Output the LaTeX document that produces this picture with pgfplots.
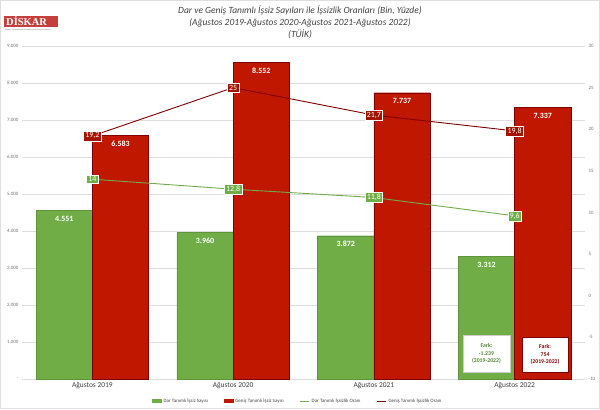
\documentclass[border=0pt]{standalone}
\usepackage{pgfplots}
\pgfplotsset{compat=1.18}
\usepackage{fontspec}
\setmainfont{Carlito}
\newfontfamily\logofont{Liberation Serif}

\definecolor{darGreen}{RGB}{112,173,71}
\definecolor{genRed}{RGB}{192,24,0}
\definecolor{genDark}{RGB}{128,0,0}
\definecolor{txtGray}{RGB}{64,64,64}
\definecolor{logoRed}{RGB}{196,64,60}

\begin{document}
\begin{tikzpicture}[x=1bp,y=1bp]
\path[use as bounding box] (0,0) rectangle (600,409);
\draw[gray!25, line width=0.6bp] (0.3,0.3) rectangle (599.7,408.7);

% logo
\fill[logoRed] (4,382) rectangle (58,393);
\node[anchor=west, text=white, font=\fontsize{10.5}{10.5}\logofont\bfseries, inner sep=0pt] at (6,387.5) {DİSKAR};
\node[anchor=west, text=black!60, font=\fontsize{1.6}{2}\selectfont, inner sep=0pt] at (5,379.5) {DEVRİMCİ İŞÇİ SENDİKALARI KONFEDERASYONU ARAŞTIRMA MERKEZİ};

% title
\node[align=center, text=txtGray, font=\fontsize{9.5}{12}\selectfont\itshape] at (300,387)
  {Dar ve Geniş Tanımlı İşsiz Sayıları ile İşsizlik Oranları (Bin, Yüzde)\\
   (Ağustos 2019-Ağustos 2020-Ağustos 2021-Ağustos 2022)\\
   (TÜİK)};

\begin{axis}[
  at={(22bp,30bp)}, anchor=south west,
  scale only axis, width=563bp, height=333bp,
  xmin=-0.5, xmax=3.5, ymin=0, ymax=9000,
  axis line style={draw=none},
  major tick length=0pt,
  xtick={0,1,2,3},
  xticklabels={Ağustos 2019,Ağustos 2020,Ağustos 2021,Ağustos 2022},
  xticklabel style={font=\fontsize{7.5}{9}\selectfont, text=txtGray},
  ytick={0,1000,...,9000},
  yticklabels={-,1.000,2.000,3.000,4.000,5.000,6.000,7.000,8.000,9.000},
  yticklabel style={font=\fontsize{5}{6}\selectfont, text=black!55},
  ymajorgrids, grid style={draw=black!13, line width=0.6bp},
  every node near coord/.append style={anchor=north, yshift=-2bp, text=white,
    font=\fontsize{8}{9}\selectfont\bfseries},
]
% bars drawn at the centre of each bar (group centre -/+ 0.2)
\addplot[ybar, bar width=0.4, bar shift=0, fill=darGreen, draw=darGreen!85!black,
  nodes near coords, point meta=explicit symbolic]
  table[meta=label] {
x y label
-0.2 4551 4.551
0.8 3960 3.960
1.8 3872 3.872
2.8 3312 3.312
};
\addplot[ybar, bar width=0.4, bar shift=0, fill=genRed, draw=genDark,
  nodes near coords, point meta=explicit symbolic]
  table[meta=label] {
x y label
0.2 6583 6.583
1.2 8552 8.552
2.2 7737 7.737
3.2 7337 7.337
};
\node[draw=black!20, fill=white, text=darGreen!75!black, align=center,
  minimum width=47bp, minimum height=37bp, inner sep=1bp,
  font=\fontsize{5.8}{7.2}\selectfont\bfseries] at (axis cs:2.80,689) {Fark:\\-1.239\\(2019-2022)};
\node[draw=genDark, fill=white, text=genDark, align=center,
  minimum width=46bp, minimum height=35bp, inner sep=1bp,
  font=\fontsize{5.8}{7.2}\selectfont\bfseries] at (axis cs:3.216,662) {Fark:\\754\\(2019-2022)};
\end{axis}

\begin{axis}[
  at={(22bp,30bp)}, anchor=south west,
  scale only axis, width=563bp, height=333bp,
  xmin=-0.5, xmax=3.5, ymin=-10, ymax=30,
  hide x axis,
  axis y line*=right,
  axis line style={draw=none},
  major tick length=0pt,
  ytick={-10,-5,...,30},
  yticklabels={-10,-5,0,5,10,15,20,25,30},
  yticklabel style={font=\fontsize{5}{6}\selectfont, text=black!55},
  legend columns=4,
  legend style={at={(0.49,-0.066)}, anchor=center, draw=none, fill=none,
    font=\fontsize{5}{6}\selectfont, text=txtGray,
    /tikz/every even column/.append style={column sep=14bp}},
  every node near coord/.append style={anchor=center, text=white, draw=white,
    line width=0.6bp, inner sep=1.8bp, font=\fontsize{8}{9}\selectfont},
]
\addlegendimage{legend image code/.code={\fill[darGreen] (0bp,-1.5bp) rectangle (9bp,1.5bp);}}
\addlegendentry{Dar Tanımlı İşsiz Sayısı}
\addlegendimage{legend image code/.code={\fill[genRed] (0bp,-1.5bp) rectangle (9bp,1.5bp);}}
\addlegendentry{Geniş Tanımlı İşsiz Sayısı}
\addplot[darGreen, line width=0.9bp, mark=none,
  legend image code/.code={\draw[darGreen, line width=0.9bp] (0bp,0bp) -- (9bp,0bp);},
  nodes near coords, point meta=explicit symbolic,
  every node near coord/.append style={fill=darGreen}]
  table[meta=label] {
x y label
0 14 14
1 12.8 {12,8}
2 11.8 {11,8}
3 9.6 {9,6}
};
\addlegendentry{Dar Tanımlı İşsizlik Oranı}
\addplot[genDark, line width=0.9bp, mark=none,
  legend image code/.code={\draw[genDark, line width=0.9bp] (0bp,0bp) -- (9bp,0bp);},
  nodes near coords, point meta=explicit symbolic,
  every node near coord/.append style={fill=genRed!85!black}]
  table[meta=label] {
x y label
0 19.2 {19,2}
1 25 25
2 21.7 {21,7}
3 19.8 {19,8}
};
\addlegendentry{Geniş Tanımlı İşsizlik Oranı}
\end{axis}
\end{tikzpicture}
\end{document}
